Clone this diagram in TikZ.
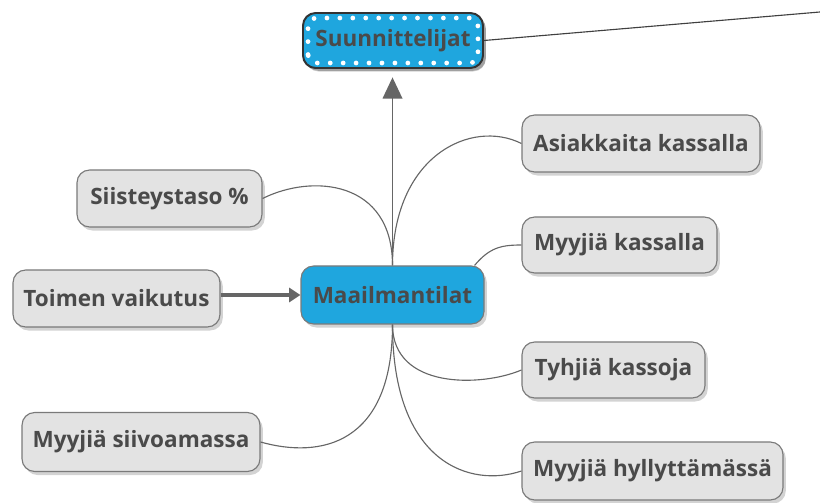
\documentclass[tikz,border=0pt]{standalone}
\usepackage{fontspec}
\setmainfont{Open Sans}
\usetikzlibrary{arrows.meta,shadows,calc}
\definecolor{boxfill}{HTML}{E3E3E3}
\definecolor{boxline}{HTML}{7A7A7A}
\definecolor{txt}{HTML}{4A4A4A}
\definecolor{blue1}{HTML}{1FA6DE}
\definecolor{conn}{HTML}{666666}
\tikzset{
  topic/.style={rounded corners=9pt, fill=boxfill, draw=boxline, line width=0.8pt,
    text=txt, font=\fontsize{16}{18}\selectfont\bfseries, inner sep=0pt,
    drop shadow={shadow xshift=2pt, shadow yshift=-2.5pt, opacity=0.35}},
  central/.style={topic, fill=blue1, draw=boxline},
  plan/.style={topic, fill=blue1, draw=black!80, line width=1.4pt,
    drop shadow={shadow xshift=2pt, shadow yshift=-2pt, opacity=0.6}},
  curve/.style={draw=conn, line width=0.8pt},
  thickarrow/.style={draw=conn, line width=2.2pt, -{Triangle[width=10pt,length=8pt]}},
  uparrow/.style={draw=conn, line width=0.9pt, -{Triangle[width=14pt,length=15pt]}},
}
\newcommand{\pxw}[1]{#1*0.025cm}
\begin{document}
\begin{tikzpicture}[x=0.025cm, y=-0.025cm]
\useasboundingbox (0,0) rectangle (820,503);
% nodes
\node[plan, minimum width=\pxw{180}, minimum height=\pxw{55}] (su) at (393,40.5) {Suunnittelijat};
\draw[white, line width=3.4pt, line cap=round, dash pattern=on 0pt off 9.2pt, rounded corners=6pt]
  ($(su.south west)+(6,-6)$) rectangle ($(su.north east)+(-6,6)$);
\node[central, minimum width=\pxw{183}, minimum height=\pxw{58}] (m) at (392.5,295) {Maailmantilat};
\node[topic, minimum width=\pxw{207}, minimum height=\pxw{57}] (tv) at (116.5,298.5) {Toimen vaikutus};
\node[topic, minimum width=\pxw{185}, minimum height=\pxw{57}] (s) at (169.5,198.5) {Siisteystaso \%};
\node[topic, minimum width=\pxw{238}, minimum height=\pxw{59}] (v) at (141,442) {Myyjiä siivoamassa};
\node[topic, minimum width=\pxw{238}, minimum height=\pxw{57}] (a) at (641,143.5) {Asiakkaita kassalla};
\node[topic, minimum width=\pxw{195}, minimum height=\pxw{56}] (k) at (619.5,245) {Myyjiä kassalla};
\node[topic, minimum width=\pxw{183}, minimum height=\pxw{56}] (t) at (613.5,370) {Tyhjiä kassoja};
\node[topic, minimum width=\pxw{261}, minimum height=\pxw{58}] (h) at (652.5,471) {Myyjiä hyllyttämässä};
\coordinate (far) at (820,12);
% connectors
\draw[curve] (m.north) .. controls +(0,-85) and +(50,-25) .. (s.east);
\draw[curve] (m.north) .. controls +(0,-110) and +(-50,-25) .. (a.west);
\draw[curve] ($(m.north east)+(-10,0)$) .. controls +(15,-18) and +(-20,0) .. (k.west);
\draw[curve] (m.south) .. controls +(0,65) and +(-40,17) .. (t.west);
\draw[curve] (m.south) .. controls +(0,120) and +(60,17) .. (v.east);
\draw[curve] (m.south) .. controls +(0,140) and +(-50,17) .. (h.west);
\draw[uparrow, shorten >=6pt] (m.north) -- (m.north |- su.south);
\draw[thickarrow] (tv.east |- m.west) -- (m.west);
\draw[draw=black!75, line width=0.8pt] (su.east) -- (far);
\end{tikzpicture}
\end{document}
